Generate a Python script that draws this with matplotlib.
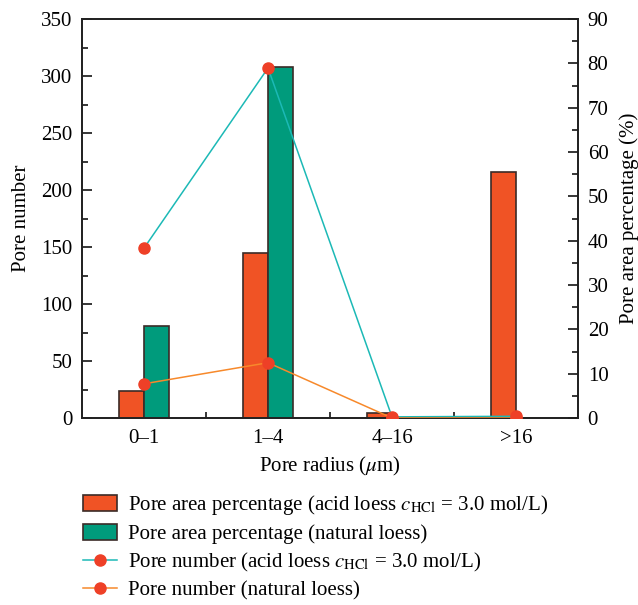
import numpy as np
import matplotlib.pyplot as plt
from matplotlib.ticker import MultipleLocator, FixedLocator

plt.rcParams['font.family'] = ['Liberation Serif', 'DejaVu Serif']
plt.rcParams['mathtext.fontset'] = 'stix'

categories = ['0\u20131', '1\u20134', '4\u201316', '>16']
area_acid = [6.2, 37.2, 1.2, 55.4]      # pore area percentage (%), acid loess
area_natural = [20.8, 79.2, 0.0, 0.0]   # pore area percentage (%), natural loess
number_acid = [149, 307, 1, 1.5]        # pore number, acid loess
number_natural = [30, 48.5, 0, 0]       # pore number, natural loess

c_orange = '#F05325'
c_green = '#009B7C'
c_edge = '#3B2B27'
c_dot = '#EE4027'
c_teal = '#1CB9B6'
c_line = '#F7892B'

fs = 15
x = np.arange(len(categories))
width = 0.2

fig = plt.figure(figsize=(6.38, 6.05), dpi=100)
ax = fig.add_axes([82/638, 1-418/605, 496/638, 399/605])
ax2 = ax.twinx()

# bars belong to the right axis (%)
b1 = ax2.bar(x - width/2, area_acid, width, color=c_orange, edgecolor=c_edge, linewidth=1.2, zorder=1)
b2 = ax2.bar(x + width/2, area_natural, width, color=c_green, edgecolor=c_edge, linewidth=1.2, zorder=1)

# lines belong to the left axis (pore number), drawn on top
l1, = ax2.plot(x, np.array(number_acid) * 90/350, color=c_teal, lw=1.1, marker='o', ms=8,
               mfc=c_dot, mec=c_dot, zorder=3)
l2, = ax2.plot(x, np.array(number_natural) * 90/350, color=c_line, lw=1.1, marker='o', ms=8,
               mfc=c_dot, mec=c_dot, zorder=3)

ax.set_xlim(-0.5, 3.5)
ax.set_ylim(0, 350)
ax2.set_ylim(0, 90)

ax.set_xticks(x)
ax.set_xticklabels(categories)
ax.xaxis.set_minor_locator(FixedLocator([0.5, 1.5, 2.5]))
ax.tick_params(axis='x', which='major', length=0, pad=8, labelsize=fs)
ax.tick_params(axis='x', which='minor', direction='in', length=4, width=1.1, top=False)

ax.yaxis.set_major_locator(MultipleLocator(50))
ax.yaxis.set_minor_locator(MultipleLocator(25))
ax.tick_params(axis='y', which='major', direction='in', length=7, width=1.1, pad=7, labelsize=fs)
ax.tick_params(axis='y', which='minor', direction='in', length=4, width=1.1)

ax2.yaxis.set_major_locator(MultipleLocator(10))
ax2.yaxis.set_minor_locator(MultipleLocator(5))
ax2.tick_params(axis='y', which='major', direction='in', length=7, width=1.1, pad=7, labelsize=fs)
ax2.tick_params(axis='y', which='minor', direction='in', length=4, width=1.1)

for a in (ax, ax2):
    for s in a.spines.values():
        s.set_linewidth(1.3)
        s.set_color('#222222')

ax.set_xlabel(r'Pore radius ($\mu$m)', fontsize=fs, labelpad=5)
ax.set_ylabel('Pore number', fontsize=fs, labelpad=7)
ax2.set_ylabel('Pore area percentage (%)', fontsize=fs, labelpad=8)

labels = [r'Pore area percentage (acid loess $c_{\mathrm{HCl}}$ = 3.0 mol/L)',
          'Pore area percentage (natural loess)',
          r'Pore number (acid loess $c_{\mathrm{HCl}}$ = 3.0 mol/L)',
          'Pore number (natural loess)']
fig.legend([b1, b2, l1, l2], labels, loc='upper left',
           bbox_to_anchor=(75/638, 1-485/605), frameon=False, fontsize=fs,
           handlelength=1.6, handleheight=0.8, handletextpad=0.55, labelspacing=0.32,
           borderaxespad=0)

fig.savefig('out.png', dpi=100)
